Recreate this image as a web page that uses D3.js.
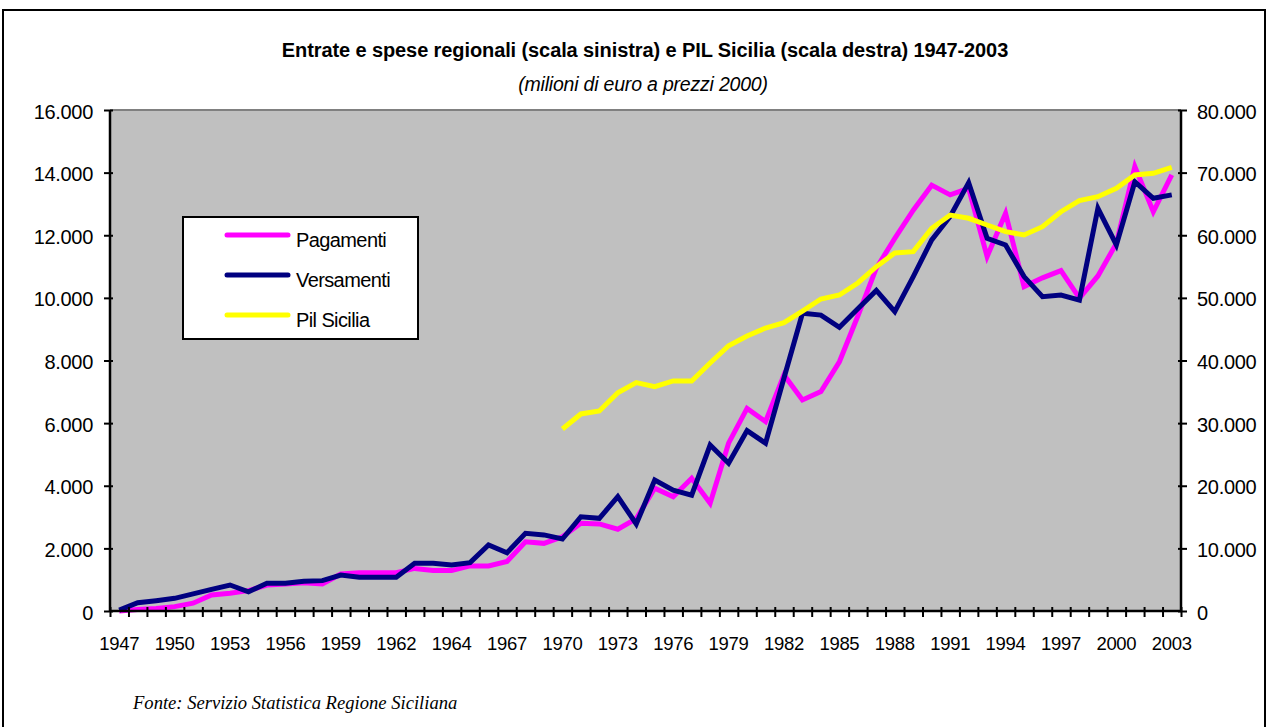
<!DOCTYPE html>
<html>
<head>
<meta charset="utf-8">
<script src="https://cdn.jsdelivr.net/npm/d3@7"></script>
<style>
  body { margin: 0; background: #fff; }
  svg { display: block; font-family: "Liberation Sans", Arial, sans-serif; }
  .tick text { fill: #000; }
</style>
</head>
<body>
<svg id="chart" width="1267" height="727"></svg>
<script>
// categorie (58: c'e' un doppio periodo nel 1963/64)
const anni = ["1947","1948","1949","1950","1951","1952","1953","1954","1955","1956",
  "1957","1958","1959","1960","1961","1962","1963","1964 I sem.","1964","1965",
  "1966","1967","1968","1969","1970","1971","1972","1973","1974","1975",
  "1976","1977","1978","1979","1980","1981","1982","1983","1984","1985",
  "1986","1987","1988","1989","1990","1991","1992","1993","1994","1995",
  "1996","1997","1998","1999","2000","2001","2002","2003"];

// etichette mostrate sull'asse x (una ogni tre categorie)
const etichetteX = ["1947","1950","1953","1956","1959","1962","1964","1967","1970","1973",
  "1976","1979","1982","1985","1988","1991","1994","1997","2000","2003"];

// scala sinistra
const pagamenti = [0,50,80,140,250,510,570,650,830,860,
  900,860,1180,1220,1220,1220,1360,1290,1290,1440,
  1440,1580,2210,2160,2370,2800,2780,2610,2950,3920,
  3650,4240,3440,5360,6470,6050,7540,6740,7010,7960,
  9420,10950,11900,12800,13600,13290,13500,11320,12700,10360,
  10640,10870,9990,10700,11740,14190,12750,13930];

const versamenti = [30,265,330,405,545,690,830,615,885,885,
  950,970,1150,1075,1075,1075,1525,1525,1470,1545,
  2110,1860,2480,2430,2300,3010,2960,3650,2780,4180,
  3860,3700,5300,4720,5760,5360,7440,9510,9450,9060,
  9650,10240,9560,10680,11850,12600,13680,11900,11690,10680,
  10040,10090,9930,12860,11690,13710,13180,13290];

// scala destra (dal 1970)
const pilSicilia = [null,null,null,null,null,null,null,null,null,null,
  null,null,null,null,null,null,null,null,null,null,
  null,null,null,null,29060,31460,31940,34860,36460,35820,
  36730,36730,39600,42360,43910,45190,46040,47900,49820,50460,
  52380,54980,57170,57380,61110,63230,62710,61640,60570,60040,
  61370,63760,65520,66160,67500,69620,69890,70850];

const tickSinistra = [0,2000,4000,6000,8000,10000,12000,14000,16000];
const tickDestra = [0,10000,20000,30000,40000,50000,60000,70000,80000];

const serie = [
  {nome: "Pagamenti", valori: pagamenti, colore: "#ff00ff", asse: "sx"},
  {nome: "Versamenti", valori: versamenti, colore: "#000080", asse: "sx"},
  {nome: "Pil Sicilia", valori: pilSicilia, colore: "#ffff00", asse: "dx"}
];

const svg = d3.select("#chart");
const pLeft = 110, pRight = 1181, pTop = 110, pBottom = 611;

const fmt = d => d3.format(",")(d).replace(/,/g, ".");

// cornice esterna
svg.append("rect")
  .attr("x", 3).attr("y", 10)
  .attr("width", 1262).attr("height", 740)
  .attr("fill", "none").attr("stroke", "#000").attr("stroke-width", 2);

// area del grafico
svg.append("rect")
  .attr("x", pLeft).attr("y", pTop)
  .attr("width", pRight - pLeft).attr("height", pBottom - pTop)
  .attr("fill", "#c0c0c0");
svg.append("line")
  .attr("x1", pLeft).attr("x2", pRight)
  .attr("y1", pTop).attr("y2", pTop)
  .attr("stroke", "#808080").attr("stroke-width", 2);

const x = d3.scaleBand().domain(anni).range([pLeft, pRight]).paddingInner(0).paddingOuter(0);
const xi = d3.scaleLinear().domain([0, anni.length]).range([pLeft, pRight]);
const ySx = d3.scaleLinear().domain([0, 16000]).range([pBottom, pTop]);
const yDx = d3.scaleLinear().domain([0, 80000]).range([pBottom, pTop]);

const cx = d => x(d) + x.bandwidth() / 2;

// asse sinistro
const gSx = svg.append("g")
  .attr("transform", "translate(" + pLeft + ",0)")
  .call(d3.axisLeft(ySx).tickValues(tickSinistra).tickFormat(fmt).tickSize(6).tickPadding(11));
// asse destro
const gDx = svg.append("g")
  .attr("transform", "translate(" + pRight + ",0)")
  .call(d3.axisRight(yDx).tickValues(tickDestra).tickFormat(fmt).tickSize(6).tickPadding(10));
// asse x: tacche ai confini delle categorie
const gX = svg.append("g")
  .attr("transform", "translate(0," + pBottom + ")")
  .call(d3.axisBottom(xi).tickValues(d3.range(0, anni.length + 1)).tickFormat("").tickSize(6));
// etichette anni
const etichetteIdx = d3.range(0, anni.length, 3);
const gXl = svg.append("g")
  .attr("transform", "translate(0," + pBottom + ")")
  .call(d3.axisBottom(x).tickValues(etichetteIdx.map(i => anni[i]))
    .tickFormat((d, i) => etichetteX[i]).tickSize(0).tickPadding(26));
gXl.select(".domain").remove();

[gSx, gDx, gX].forEach(g => {
  g.select(".domain").attr("stroke", "#000").attr("stroke-width", 2.5);
  g.selectAll(".tick line").attr("stroke", "#000").attr("stroke-width", 2);
});
// tacche che attraversano l'asse
gSx.selectAll(".tick line").attr("x1", 3).attr("x2", -6);
gDx.selectAll(".tick line").attr("x1", -3).attr("x2", 6);
gX.selectAll(".tick line").attr("y1", -4).attr("y2", 6);
gSx.select(".domain").attr("d", "M0," + pTop + "V" + pBottom);
gDx.select(".domain").attr("d", "M0," + pTop + "V" + pBottom);
gX.select(".domain").attr("d", "M" + pLeft + ",0H" + pRight);

svg.selectAll(".tick text").attr("font-family", "Liberation Sans, Arial, sans-serif");
gSx.selectAll(".tick text").attr("font-size", 20).attr("letter-spacing", -0.3).attr("dy", "0.4em");
gDx.selectAll(".tick text").attr("font-size", 20).attr("letter-spacing", -0.3).attr("dy", "0.4em");
gXl.selectAll(".tick text").attr("font-size", 18.5).attr("letter-spacing", -0.3);

// linee
serie.forEach(s => {
  const y = s.asse === "sx" ? ySx : yDx;
  const line = d3.line()
    .defined(d => d.v !== null)
    .x(d => cx(d.a))
    .y(d => y(d.v));
  svg.append("path")
    .datum(anni.map((a, i) => ({a: a, v: s.valori[i]})))
    .attr("d", line)
    .attr("fill", "none")
    .attr("stroke", s.colore)
    .attr("stroke-width", 5);
});

// asse x sopra le linee
svg.node().appendChild(gX.node());

// legenda
const leg = svg.append("g");
leg.append("rect")
  .attr("x", 183).attr("y", 217).attr("width", 235).attr("height", 122)
  .attr("fill", "#fff").attr("stroke", "#000").attr("stroke-width", 2);
serie.forEach((s, i) => {
  const yy = 235 + i * 40;
  leg.append("line")
    .attr("x1", 227).attr("x2", 288).attr("y1", yy).attr("y2", yy)
    .attr("stroke", s.colore).attr("stroke-width", 5).attr("stroke-linecap", "round");
  leg.append("text")
    .attr("x", 296).attr("y", yy + 12)
    .attr("font-size", 20).attr("letter-spacing", -0.6)
    .text(s.nome);
});

// titoli
svg.append("text")
  .attr("x", 645).attr("y", 57)
  .attr("text-anchor", "middle").attr("font-size", 20).attr("font-weight", "bold")
  .attr("letter-spacing", -0.1)
  .text("Entrate e spese regionali (scala sinistra) e PIL Sicilia (scala destra) 1947-2003");
svg.append("text")
  .attr("x", 643).attr("y", 91)
  .attr("text-anchor", "middle").attr("font-size", 19.5).attr("font-style", "italic")
  .attr("letter-spacing", -0.2)
  .text("(milioni di euro a prezzi 2000)");

// fonte
svg.append("text")
  .attr("x", 133).attr("y", 709)
  .attr("font-family", "Liberation Serif, Times New Roman, serif")
  .attr("font-size", 18.6).attr("font-style", "italic")
  .text("Fonte: Servizio Statistica Regione Siciliana");
</script>
</body>
</html>
